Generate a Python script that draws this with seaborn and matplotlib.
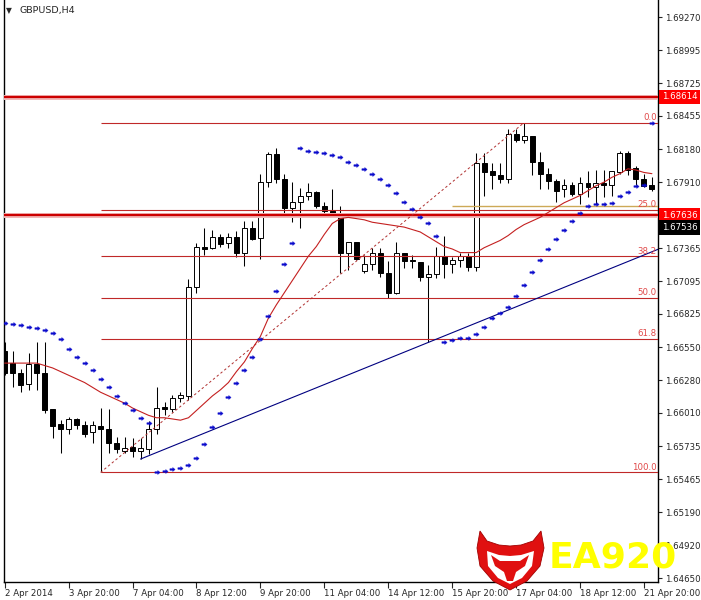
import numpy as np
import pandas as pd
import matplotlib
matplotlib.use('Agg')
import matplotlib.pyplot as plt
import matplotlib.transforms as mtransforms
from matplotlib.patches import Polygon
from matplotlib.path import Path
import seaborn as sns

# GBPUSD H4, 82 bars from 2 Apr 2014 12:00
opens = [1.6652, 1.6642, 1.6634, 1.6625, 1.6641, 1.6634, 1.6604, 1.6592, 1.6588, 1.6596,
         1.6591, 1.6585, 1.6590, 1.6588, 1.6576, 1.6570, 1.6573, 1.6570, 1.6571, 1.6588,
         1.6606, 1.6604, 1.6613, 1.6615, 1.6705, 1.6738, 1.6737, 1.6746, 1.6741, 1.6746,
         1.6733, 1.6753, 1.6745, 1.6791, 1.6814, 1.6794, 1.6770, 1.6775, 1.6780, 1.6783,
         1.6771, 1.6767, 1.6763, 1.6733, 1.6742, 1.6718, 1.6724, 1.6733, 1.6716, 1.6700,
         1.6733, 1.6727, 1.6725, 1.6713, 1.6715, 1.6730, 1.6724, 1.6727, 1.6730, 1.6721,
         1.6807, 1.6800, 1.6797, 1.6794, 1.6831, 1.6826, 1.6829, 1.6808, 1.6798, 1.6792,
         1.6785, 1.6789, 1.6781, 1.6790, 1.6787, 1.6790, 1.6789, 1.6799, 1.6815, 1.6803,
         1.6794, 1.6789]
highs = [1.6659, 1.6652, 1.6637, 1.6650, 1.6659, 1.6659, 1.6604, 1.6595, 1.6598, 1.6597,
         1.6594, 1.6594, 1.6605, 1.6604, 1.6581, 1.6581, 1.6580, 1.6580, 1.6594, 1.6622,
         1.6610, 1.6616, 1.6618, 1.6711, 1.6741, 1.6753, 1.6752, 1.6748, 1.6749, 1.6751,
         1.6759, 1.6759, 1.6798, 1.6816, 1.6819, 1.6798, 1.6791, 1.6786, 1.6790, 1.6784,
         1.6775, 1.6785, 1.6771, 1.6742, 1.6742, 1.6731, 1.6737, 1.6737, 1.6726, 1.6742,
         1.6733, 1.6731, 1.6725, 1.6723, 1.6738, 1.6747, 1.6729, 1.6733, 1.6733, 1.6815,
         1.6815, 1.6807, 1.6807, 1.6835, 1.6835, 1.6840, 1.6829, 1.6816, 1.6803, 1.6794,
         1.6794, 1.6791, 1.6795, 1.6800, 1.6801, 1.6801, 1.6800, 1.6817, 1.6817, 1.6804,
         1.6798, 1.6795]
lows = [1.6632, 1.6622, 1.6618, 1.6620, 1.6620, 1.6601, 1.6580, 1.6568, 1.6584, 1.6588,
        1.6581, 1.6576, 1.6552, 1.6568, 1.6568, 1.6568, 1.6565, 1.6563, 1.6567, 1.6584,
        1.6599, 1.6602, 1.6610, 1.6612, 1.6700, 1.6731, 1.6736, 1.6738, 1.6737, 1.6729,
        1.6722, 1.6743, 1.6728, 1.6787, 1.6790, 1.6766, 1.6758, 1.6753, 1.6776, 1.6770,
        1.6764, 1.6762, 1.6716, 1.6719, 1.6727, 1.6716, 1.6719, 1.6713, 1.6696, 1.6699,
        1.6720, 1.6720, 1.6710, 1.6659, 1.6712, 1.6712, 1.6716, 1.6721, 1.6718, 1.6718,
        1.6780, 1.6785, 1.6790, 1.6790, 1.6824, 1.6823, 1.6797, 1.6785, 1.6785, 1.6775,
        1.6779, 1.6780, 1.6773, 1.6779, 1.6773, 1.6779, 1.6780, 1.6798, 1.6797, 1.6789,
        1.6787, 1.6784]
closes = [1.6634, 1.6634, 1.6624, 1.6641, 1.6634, 1.6603, 1.6590, 1.6588, 1.6596, 1.6591,
          1.6584, 1.6591, 1.6588, 1.6576, 1.6571, 1.6572, 1.6570, 1.6572, 1.6588, 1.6605,
          1.6604, 1.6613, 1.6616, 1.6705, 1.6738, 1.6736, 1.6746, 1.6740, 1.6746, 1.6733,
          1.6753, 1.6744, 1.6791, 1.6814, 1.6794, 1.6770, 1.6775, 1.6780, 1.6783, 1.6771,
          1.6767, 1.6764, 1.6733, 1.6742, 1.6728, 1.6724, 1.6733, 1.6716, 1.6700, 1.6733,
          1.6726, 1.6726, 1.6713, 1.6715, 1.6730, 1.6724, 1.6727, 1.6730, 1.6721, 1.6807,
          1.6799, 1.6797, 1.6794, 1.6831, 1.6826, 1.6829, 1.6808, 1.6798, 1.6792, 1.6784,
          1.6789, 1.6781, 1.6790, 1.6787, 1.6790, 1.6789, 1.6800, 1.6815, 1.6801, 1.6794,
          1.6788, 1.6785]

# moving average (thin red line)
ma_line = [1.6642, 1.6642, 1.6642, 1.6642, 1.6642, 1.6640, 1.6638, 1.6635, 1.6632, 1.6629,
           1.6626, 1.6622, 1.6618, 1.6615, 1.6612, 1.6609, 1.6605, 1.6602, 1.6599, 1.6597,
           1.6597, 1.6596, 1.6595, 1.6597, 1.6603, 1.6609, 1.6615, 1.6620, 1.6626, 1.6635,
           1.6643, 1.6654, 1.6664, 1.6679, 1.6690, 1.6700, 1.6710, 1.6720, 1.6730, 1.6738,
           1.6748, 1.6757, 1.6761, 1.6762, 1.6761, 1.6760, 1.6758, 1.6757, 1.6756, 1.6755,
           1.6754, 1.6752, 1.6750, 1.6746, 1.6742, 1.6738, 1.6736, 1.6733, 1.6733, 1.6733,
           1.6737, 1.6740, 1.6743, 1.6747, 1.6752, 1.6756, 1.6759, 1.6762, 1.6766, 1.6770,
           1.6774, 1.6777, 1.6780, 1.6784, 1.6788, 1.6791, 1.6795, 1.6798, 1.6802, 1.6801,
           1.6799, 1.6798]

# parabolic SAR (blue dots)
sar_dots = [1.6675, 1.6674, 1.6673, 1.6672, 1.6671, 1.6669, 1.6667, 1.6662, 1.6654, 1.6647,
            1.6642, 1.6636, 1.6629, 1.6622, 1.6615, 1.6609, 1.6603, 1.6597, 1.6593, 1.6552,
            1.6553, 1.6555, 1.6556, 1.6558, 1.6564, 1.6575, 1.6589, 1.6601, 1.6614, 1.6626,
            1.6636, 1.6647, 1.6662, 1.6681, 1.6701, 1.6724, 1.6741, 1.6819, 1.6817, 1.6816,
            1.6815, 1.6813, 1.6812, 1.6808, 1.6805, 1.6802, 1.6798, 1.6794, 1.6789, 1.6782,
            1.6775, 1.6769, 1.6762, 1.6757, 1.6747, 1.6659, 1.6661, 1.6663, 1.6663, 1.6666,
            1.6672, 1.6679, 1.6683, 1.6688, 1.6697, 1.6706, 1.6717, 1.6727, 1.6736, 1.6744,
            1.6752, 1.6759, 1.6766, 1.6771, 1.6773, 1.6773, 1.6774, 1.6780, 1.6783, 1.6788,
            1.6789, 1.6840]

time_labels = ['2 Apr 2014', '3 Apr 20:00', '7 Apr 04:00', '8 Apr 12:00', '9 Apr 20:00',
               '11 Apr 04:00', '14 Apr 12:00', '15 Apr 20:00', '17 Apr 04:00',
               '18 Apr 12:00', '21 Apr 20:00']
price_ticks = [1.69270, 1.68995, 1.68725, 1.68455, 1.68180, 1.67910, 1.67365, 1.67095,
               1.66825, 1.66550, 1.66280, 1.66010, 1.65735, 1.65465, 1.65190, 1.64920,
               1.64650]

# chart objects
fib_start, fib_end = 12, 65          # bar 12 low -> bar 65 high
fib_low, fib_high = 1.6552, 1.6840
fib_levels = [0.0, 25.0, 38.2, 50.0, 61.8, 100.0]
red_levels = [1.68614, 1.67636]
bid_price = 1.67536
khaki_start, khaki_price = 56, 1.6771
trend_a = (17, 1.6563)               # two lows the blue trend line goes through
trend_b = (53, 1.6659)

sns.set_style('white')
plt.rcParams['font.family'] = ['DejaVu Sans']

W, H = 701, 600
fig = plt.figure(figsize=(W / 100, H / 100), dpi=100)
ax_l, ax_r, ax_b = 3.5, 658.3, 581.7
ax = fig.add_axes([ax_l / W, 1 - ax_b / H, (ax_r - ax_l) / W, ax_b / H])
x_lo, x_hi = -0.15, 81.8
ax.set_xlim(x_lo, x_hi)
ax.set_ylim(1.64620, 1.69410)

df = pd.DataFrame({'bar': np.arange(len(opens)), 'open': opens, 'high': highs,
                   'low': lows, 'close': closes})
up = df['close'] >= df['open']

# candles
ax.vlines(df['bar'], df['low'], df['high'], color='black', lw=0.75, zorder=2)
body_lo = np.minimum(df['open'], df['close'])
body_h = np.maximum((df['close'] - df['open']).abs(), 0.000005)
ax.bar(df['bar'], body_h, bottom=body_lo, width=0.62,
       color=np.where(up, 'white', 'black'), edgecolor='black', linewidth=0.7, zorder=3)

# horizontal objects
for p in red_levels:
    ax.axhline(p, color='#F2B8B8', lw=3.6, zorder=4)
    ax.axhline(p, color='#CC0000', lw=1.6, zorder=4)
fib_rng = fib_high - fib_low
for lv in fib_levels:
    py = fib_high - lv / 100 * fib_rng
    ax.hlines(py, fib_start, x_hi, color='#C02828', lw=0.8, zorder=4)
    ax.text(x_hi - 0.2, py + 0.00006, '%.1f' % lv, ha='right', va='bottom',
            color='#E04848', fontsize=6.2, zorder=5)
ax.plot([fib_start, fib_end], [fib_low, fib_high], color='#B03030', lw=0.7,
        dashes=(2.5, 2.5), zorder=4)
ax.hlines(khaki_price, khaki_start - 0.05, x_hi, color='#CDA957', lw=1.0, zorder=4)

slope = (trend_b[1] - trend_a[1]) / (trend_b[0] - trend_a[0])
ax.plot([trend_a[0], x_hi], [trend_a[1], trend_a[1] + slope * (x_hi - trend_a[0])],
        color='#000080', lw=0.8, zorder=4)

# indicators
sns.lineplot(x=df['bar'], y=ma_line, ax=ax, color='#C42020', linewidth=0.8, zorder=5)
arrow = Path([(-1, -0.3), (0.1, -0.3), (0.1, -0.75), (1, 0), (0.1, 0.75), (0.1, 0.3),
              (-1, 0.3), (-1, -0.3)])
sns.scatterplot(x=df['bar'], y=sar_dots, ax=ax, marker=arrow, s=14, color='#0A0ACC',
                edgecolor='#0A0ACC', linewidth=0.3, zorder=6)

# axes look
for side in ['left', 'bottom', 'right']:
    ax.spines[side].set_color('black')
    ax.spines[side].set_linewidth(1.0)
ax.spines['top'].set_visible(False)
ax.yaxis.tick_right()
ax.set_yticks(price_ticks)
ax.set_yticklabels(['%.5f' % t for t in price_ticks])
ax.tick_params(axis='y', direction='out', length=3, width=0.8, pad=2, labelsize=6.2,
               right=True, left=False)
ax.set_xticks(np.arange(0, 81, 8))
ax.set_xticklabels(time_labels, ha='left')
ax.tick_params(axis='x', direction='out', length=4, width=0.8, pad=1.5, labelsize=6.2,
               bottom=True)
ax.set_xlabel('')
ax.set_ylabel('')
ax.grid(False)

# price tags on the right scale
tag_tr = mtransforms.blended_transform_factory(fig.transFigure, ax.transData)
for p in red_levels:
    ax.text(662 / W, p, '%.5f' % p, transform=tag_tr, ha='left', va='center', color='white',
            fontsize=6.2, zorder=7, clip_on=False,
            bbox=dict(boxstyle='square,pad=0.3', fc='#FF0000', ec='none'))
ax.text(662 / W, bid_price, '%.5f' % bid_price, transform=tag_tr, ha='left', va='center',
        color='white', fontsize=6.2, zorder=7, clip_on=False,
        bbox=dict(boxstyle='square,pad=0.3', fc='black', ec='none'))

# title
fig.text(6 / W, 1 - 11 / H, '\u25bc', fontsize=5.5, va='center', ha='left')
fig.text(19 / W, 1 - 11 / H, 'GBPUSD,H4', fontsize=6.8, va='center', ha='left')

# watermark logo
ov = fig.add_axes([0, 0, 1, 1], zorder=10)
ov.set_xlim(0, W)
ov.set_ylim(H, 0)
ov.axis('off')
ov.patch.set_alpha(0)
shield = [(480, 531), (487, 541), (499, 545), (510, 546), (521, 545), (533, 541), (541, 531),
          (544, 548), (540, 566), (527, 581), (510, 590), (493, 581), (480, 566), (477, 548)]
inner = [(487, 551), (499, 555), (510, 556), (521, 555), (534, 551), (532, 566), (522, 578),
         (510, 584), (498, 578), (488, 566)]
head = [(491, 555), (500, 561), (520, 561), (529, 555), (525, 566), (516, 572), (513, 581),
        (507, 581), (504, 572), (495, 566)]
ov.add_patch(Polygon(shield, closed=True, fc='#E01010', ec='#A00000', lw=0.6))
ov.add_patch(Polygon(inner, closed=True, fc='white', ec='none'))
ov.add_patch(Polygon(head, closed=True, fc='#E01010', ec='none'))
ov.text(549, 558, 'EA920', fontsize=26, fontweight='heavy', color='#FFFF00',
        ha='left', va='center')

fig.savefig('out.png', dpi=100, facecolor='white')
